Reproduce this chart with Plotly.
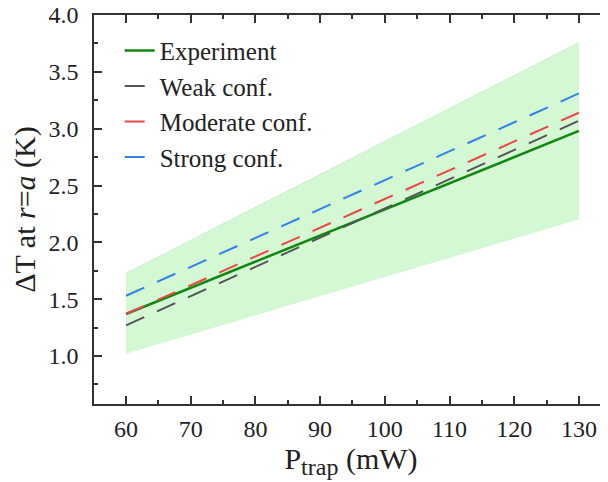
import plotly.graph_objects as go

P_trap = [60, 130]
exp_mean = [1.37, 2.98]
exp_low = [1.02, 2.20]
exp_high = [1.73, 3.76]
weak = [1.27, 3.07]
moderate = [1.37, 3.14]
strong = [1.53, 3.31]

font_family = "Liberation Serif, Times New Roman, serif"

fig = go.Figure()
fig.add_trace(go.Scatter(x=P_trap, y=exp_low, mode="lines", line=dict(width=0, color="rgba(0,0,0,0)"),
                         showlegend=False, hoverinfo="skip"))
fig.add_trace(go.Scatter(x=P_trap, y=exp_high, mode="lines", fill="tonexty",
                         fillcolor="rgb(212,247,212)", line=dict(width=0.5, color="rgba(160,220,160,0.6)"),
                         showlegend=False, hoverinfo="skip"))
fig.add_trace(go.Scatter(x=P_trap, y=exp_mean, mode="lines", name="Experiment",
                         line=dict(color="rgb(16,135,16)", width=2.5)))
fig.add_trace(go.Scatter(x=P_trap, y=weak, mode="lines", name="Weak conf.",
                         line=dict(color="rgb(85,85,85)", width=2, dash="20px,14px")))
fig.add_trace(go.Scatter(x=P_trap, y=moderate, mode="lines", name="Moderate conf.",
                         line=dict(color="rgb(235,70,70)", width=2, dash="20px,14px")))
fig.add_trace(go.Scatter(x=P_trap, y=strong, mode="lines", name="Strong conf.",
                         line=dict(color="rgb(50,130,230)", width=2, dash="20px,14px")))

axis_common = dict(showline=True, linecolor="#333333", linewidth=1.5, mirror="ticks",
                   ticks="inside", ticklen=8, tickwidth=1.5, tickcolor="#333333",
                   showgrid=False, zeroline=False, automargin=False, ticklabeloverflow="allow",
                   tickfont=dict(family=font_family, size=24, color="#222222"))

fig.update_layout(
    width=600, height=474,
    margin=dict(l=86, r=0, t=7, b=78),
    paper_bgcolor="white", plot_bgcolor="white",
    font=dict(family=font_family, color="#222222"),
    xaxis=dict(range=[55.05, 134.5], tickvals=[60, 70, 80, 90, 100, 110, 120, 130],
               minor=dict(ticks="inside", ticklen=4, tickwidth=1.5, tickcolor="#333333", dtick=5, tick0=55),
               ticklabelstandoff=2,
               title=dict(text="P<sub><span style='font-size:24px'>trap</span></sub> (mW)",
                          font=dict(family=font_family, size=30), standoff=4),
               **axis_common),
    yaxis=dict(range=[0.578, 4.0], tickvals=[1.0, 1.5, 2.0, 2.5, 3.0, 3.5, 4.0], tickformat=".1f",
               minor=dict(ticks="inside", ticklen=4, tickwidth=1.5, tickcolor="#333333", dtick=0.25, tick0=0.75),
               ticklabelstandoff=9,
               title=dict(text="ΔT at <i>r</i>=<i>a</i> (K)", font=dict(family=font_family, size=30), standoff=8),
               **axis_common),
    legend=dict(x=0.050, y=0.967, xanchor="left", yanchor="top", bgcolor="rgba(0,0,0,0)",
                traceorder="normal",
                font=dict(family=font_family, size=25, color="#222222"), tracegroupgap=0),
)

fig.write_html("out.html")
